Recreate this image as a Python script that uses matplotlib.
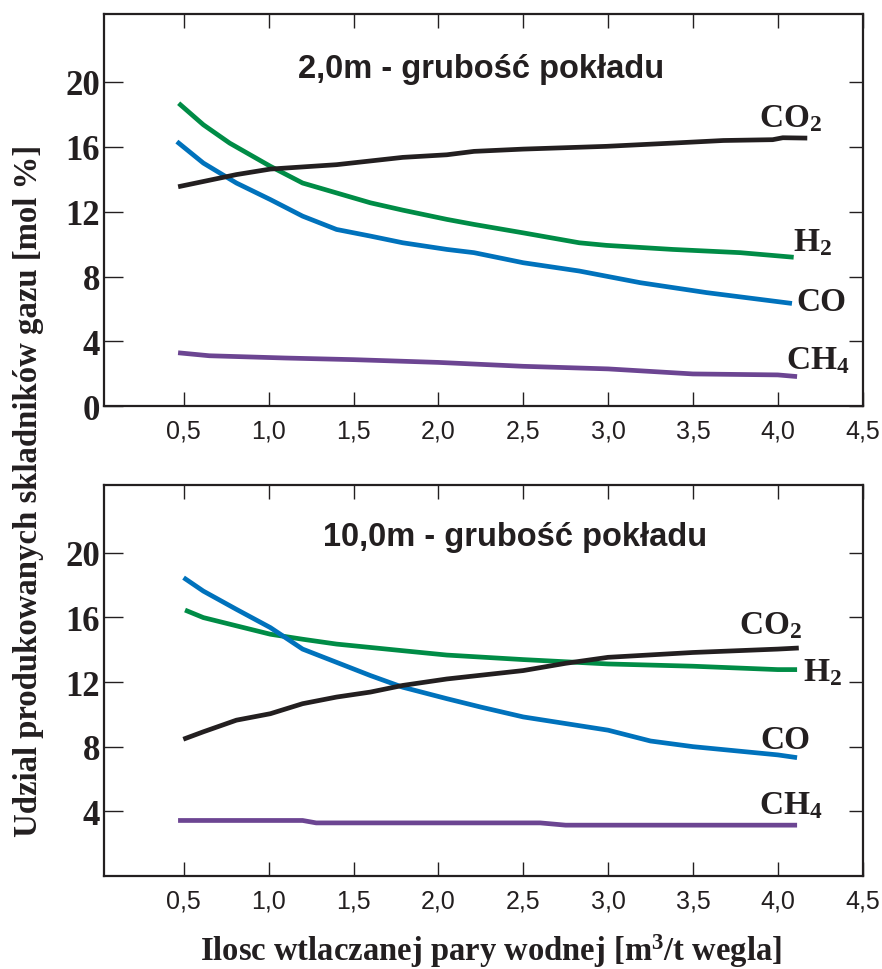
import matplotlib
matplotlib.use("Agg")
import matplotlib.pyplot as plt

plt.rcParams['mathtext.fontset'] = 'custom'
plt.rcParams['mathtext.rm'] = 'Liberation Serif:bold'
plt.rcParams['mathtext.it'] = 'Liberation Serif:bold'
plt.rcParams['mathtext.bf'] = 'Liberation Serif:bold'

# --- 2,0 m seam thickness ---
top_co2_x = [0.48, 0.81, 1.01, 1.4, 1.79, 2.05, 2.21, 2.5, 2.99, 3.38, 3.68, 3.97, 4.03, 4.16]
top_co2_y = [13.56, 14.28, 14.62, 14.89, 15.34, 15.5, 15.71, 15.85, 16.02, 16.22, 16.38, 16.43, 16.55, 16.53]
top_h2_x = [0.48, 0.615, 0.77, 1.01, 1.2, 1.4, 1.6, 1.79, 2.05, 2.21, 2.5, 2.83, 2.99, 3.38, 3.78, 4.08]
top_h2_y = [18.58, 17.35, 16.22, 14.79, 13.76, 13.15, 12.54, 12.09, 11.52, 11.21, 10.69, 10.08, 9.92, 9.67, 9.47, 9.2]
top_co_x = [0.47, 0.615, 0.81, 1.01, 1.2, 1.4, 1.6, 1.79, 2.05, 2.21, 2.5, 2.83, 3.19, 3.58, 4.07]
top_co_y = [16.22, 14.99, 13.76, 12.74, 11.72, 10.9, 10.49, 10.08, 9.67, 9.47, 8.85, 8.34, 7.62, 7.01, 6.36]
top_ch4_x = [0.48, 0.65, 1.1, 1.5, 2.0, 2.5, 3.0, 3.5, 4.0, 4.1]
top_ch4_y = [3.29, 3.12, 2.98, 2.88, 2.71, 2.47, 2.31, 2.0, 1.94, 1.85]

# --- 10,0 m seam thickness ---
bot_co2_x = [0.51, 0.615, 0.81, 1.01, 1.2, 1.4, 1.6, 1.79, 2.05, 2.5, 2.75, 3.0, 3.5, 4.0, 4.11]
bot_co2_y = [8.51, 8.92, 9.64, 10.04, 10.66, 11.07, 11.38, 11.79, 12.19, 12.71, 13.16, 13.53, 13.83, 14.04, 14.1]
bot_h2_x = [0.52, 0.615, 0.81, 1.01, 1.2, 1.4, 1.6, 1.79, 2.05, 2.5, 3.0, 3.5, 4.0, 4.1]
bot_h2_y = [16.4, 15.99, 15.48, 14.96, 14.65, 14.35, 14.14, 13.94, 13.67, 13.39, 13.12, 12.98, 12.77, 12.77]
bot_co_x = [0.51, 0.615, 0.81, 1.01, 1.2, 1.4, 1.6, 1.79, 2.05, 2.25, 2.5, 3.0, 3.25, 3.5, 4.0, 4.1]
bot_co_y = [18.38, 17.63, 16.5, 15.37, 14.04, 13.22, 12.4, 11.68, 10.97, 10.45, 9.84, 9.02, 8.35, 8.0, 7.49, 7.34]
bot_ch4_x = [0.48, 1.2, 1.28, 2.6, 2.75, 4.1]
bot_ch4_y = [3.43, 3.43, 3.28, 3.28, 3.14, 3.14]

x_ticks = [0.5, 1.0, 1.5, 2.0, 2.5, 3.0, 3.5, 4.0, 4.5]
x_tick_labels = ['0,5', '1,0', '1,5', '2,0', '2,5', '3,0', '3,5', '4,0', '4,5']
top_y_ticks = [0, 4, 8, 12, 16, 20]
bot_y_ticks = [4, 8, 12, 16, 20]

DARK = '#231f20'
GREEN = '#008c46'
BLUE = '#0072bc'
PURPLE = '#6c4592'
LW = 3.4

fig = plt.figure(figsize=(8.82, 9.70), dpi=100)
ax_top = fig.add_axes([0.118, 0.580, 0.860, 0.405])
ax_bot = fig.add_axes([0.118, 0.096, 0.860, 0.403])


def style_axes(ax, yticks):
    ax.set_xlim(0.03, 4.5)
    ax.set_ylim(0, 24.2)
    ax.set_xticks(x_ticks)
    ax.set_xticklabels(x_tick_labels, fontfamily='Liberation Sans', fontsize=18, color=DARK)
    ax.set_yticks(yticks)
    ax.set_yticklabels([str(t) for t in yticks], fontfamily='Liberation Serif',
                       fontweight='bold', fontsize=25, color=DARK)
    ax.tick_params(axis='x', direction='in', top=True, length=10, width=1,
                   color=DARK, pad=9)
    ax.tick_params(axis='y', direction='in', left=True, right=False, length=14, width=1,
                   color=DARK, pad=3)
    for s in ax.spines.values():
        s.set_linewidth(1.6)
        s.set_color(DARK)
    sec = ax.secondary_yaxis('right')
    sec.set_yticks(yticks)
    sec.tick_params(direction='in', length=10, width=1, color=DARK, labelright=False)
    sec.spines['right'].set_visible(False)


style_axes(ax_top, top_y_ticks)
style_axes(ax_bot, bot_y_ticks)

ax_top.plot(top_ch4_x, top_ch4_y, color=PURPLE, lw=LW)
ax_top.plot(top_co_x, top_co_y, color=BLUE, lw=LW)
ax_top.plot(top_h2_x, top_h2_y, color=GREEN, lw=LW)
ax_top.plot(top_co2_x, top_co2_y, color=DARK, lw=LW)

ax_bot.plot(bot_ch4_x, bot_ch4_y, color=PURPLE, lw=LW)
ax_bot.plot(bot_h2_x, bot_h2_y, color=GREEN, lw=LW)
ax_bot.plot(bot_co_x, bot_co_y, color=BLUE, lw=LW)
ax_bot.plot(bot_co2_x, bot_co2_y, color=DARK, lw=LW)

lab = dict(fontfamily='Liberation Serif', fontweight='bold', fontsize=24,
           color=DARK, va='baseline', ha='left')
ax_top.text(3.89, 17.24, r'CO$_2$', **lab)
ax_top.text(4.09, 9.63, r'H$_2$', **lab)
ax_top.text(4.11, 5.94, 'CO', **lab)
ax_top.text(4.05, 2.35, r'CH$_4$', **lab)

ax_bot.text(3.77, 15.02, r'CO$_2$', **lab)
ax_bot.text(4.15, 12.1, r'H$_2$', **lab)
ax_bot.text(3.90, 7.89, 'CO', **lab)
ax_bot.text(3.89, 3.9, r'CH$_4$', **lab)

ttl = dict(fontfamily='Liberation Sans', fontweight='bold', fontsize=23.5,
           color=DARK, ha='center', va='baseline')
ax_top.text(2.25, 20.31, '2,0m - grubość pokładu', **ttl)
ax_bot.text(2.45, 20.49, '10,0m - grubość pokładu', **ttl)

fig.text(0.032, 0.494, 'Udzial produkowanych skladników gazu [mol %]',
         rotation=90, ha='center', va='center', fontfamily='Liberation Serif',
         fontweight='bold', fontsize=23.6, color=DARK)
fig.text(0.557, 0.009, r'Ilosc wtlaczanej pary wodnej [m$^3$/t wegla]',
         ha='center', va='baseline', fontfamily='Liberation Serif',
         fontweight='bold', fontsize=23.5, color=DARK)

fig.savefig('out.png', dpi=100)
